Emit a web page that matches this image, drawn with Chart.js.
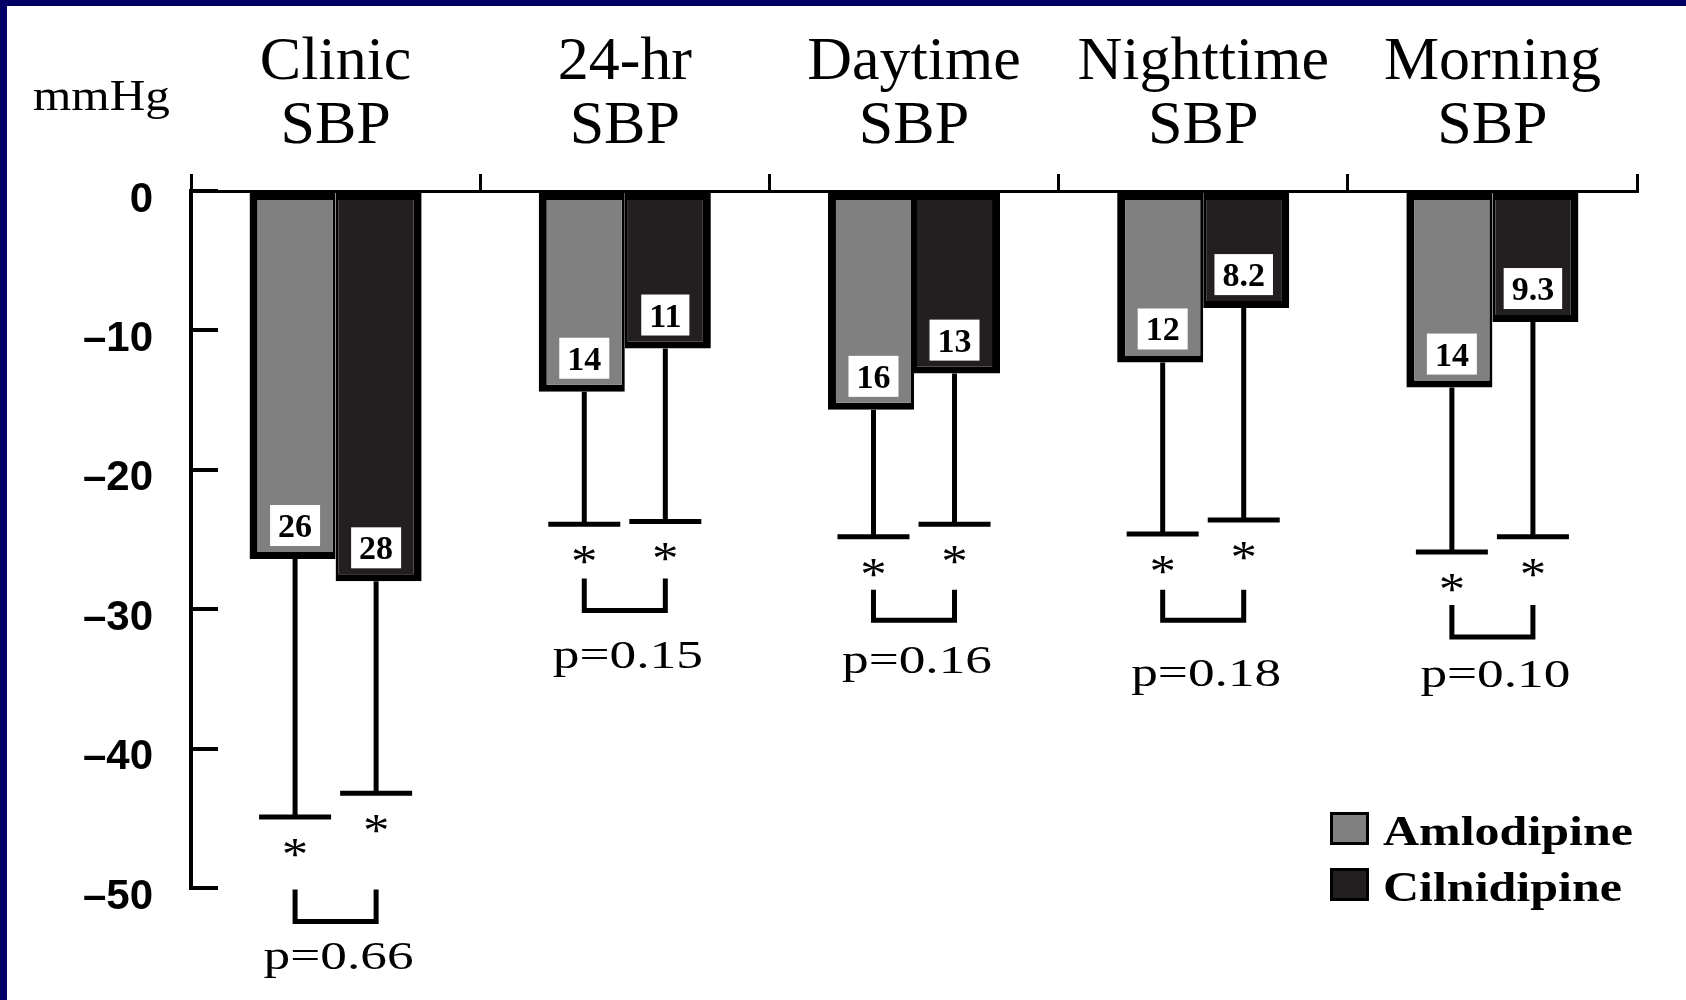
<!DOCTYPE html>
<html><head><meta charset="utf-8">
<script src="https://cdn.jsdelivr.net/npm/chart.js@4/dist/chart.umd.min.js"></script>
<style>
html,body{margin:0;padding:0;background:#fff;}
#wrap{position:relative;width:1686px;height:1000px;overflow:hidden;background:#fff;}
#c{position:absolute;left:0;top:0;}
.bt{position:absolute;left:0;top:0;width:1686px;height:6px;background:#000066;}
.bl{position:absolute;left:0;top:0;width:7px;height:1000px;background:#000066;}
</style></head><body>
<div id="wrap"><canvas id="c" width="1686" height="1000"></canvas><div class="bt"></div><div class="bl"></div></div>
<script>
// ---- data ----
const categories = [["Clinic","SBP"],["24-hr","SBP"],["Daytime","SBP"],["Nighttime","SBP"],["Morning","SBP"]];
const seriesNames = ["Amlodipine","Cilnidipine"];
const amlodipine = [-26.4,-14.4,-15.7,-12.3,-14.1];
const cilnidipine = [-28.0,-11.3,-13.1,-8.4,-9.4];
const amlodipineLabels = ["26","14","16","12","14"];
const cilnidipineLabels = ["28","11","13","8.2","9.3"];
const amlodipineSDEnd = [-44.9,-23.9,-24.8,-24.6,-25.9];
const cilnidipineSDEnd = [-43.2,-23.7,-23.9,-23.6,-24.8];
const bracketTop = [-50.1,-27.8,-28.6,-28.6,-29.7];
const bracketBottom = [-52.4,-30.1,-30.8,-30.8,-32.0];
const pValues = ["p=0.66","p=0.15","p=0.16","p=0.18","p=0.10"];
const pTextY = [-54.8,-33.2,-33.6,-34.5,-34.6];
const yTicks = [0,-10,-20,-30,-40,-50];
const unitLabel = "mmHg";

// ---- helpers ----
function stretchedText(ctx, text, x, y, font, sx, align){
  ctx.save();
  ctx.font = font;
  ctx.fillStyle = '#000';
  ctx.textAlign = align || 'center';
  ctx.textBaseline = 'alphabetic';
  ctx.translate(x, y);
  ctx.scale(sx, 1);
  ctx.fillText(text, 0, 0);
  ctx.restore();
}

const annot = {
  id: 'annot',
  afterDatasetsDraw(chart){
    const ctx = chart.ctx;
    const y = chart.scales.y;
    const ca = chart.chartArea;
    const sdArrs = [amlodipineSDEnd, cilnidipineSDEnd];
    const lblArrs = [amlodipineLabels, cilnidipineLabels];
    const metas = [chart.getDatasetMeta(0), chart.getDatasetMeta(1)];
    const centers = [[],[]];
    ctx.save();
    metas.forEach((meta, d) => {
      meta.data.forEach((bar, i) => {
        const x = bar.x + (d === 0 ? 2.5 : -2.5);
        centers[d][i] = x;
        const yBar = bar.y;
        const yEnd = y.getPixelForValue(sdArrs[d][i]);
        ctx.strokeStyle = '#000';
        ctx.lineWidth = 5;
        ctx.lineCap = 'butt';
        ctx.beginPath(); ctx.moveTo(x, yBar); ctx.lineTo(x, yEnd); ctx.stroke();
        ctx.beginPath(); ctx.moveTo(x - 36, yEnd); ctx.lineTo(x + 36, yEnd); ctx.stroke();
        // asterisk
        stretchedText(ctx, '*', x, yEnd + 53, '46px "Liberation Serif"', 1.15);
        // value label box
        ctx.font = 'bold 34px "Liberation Serif"';
        const t = lblArrs[d][i];
        const w = ctx.measureText(t).width + 16;
        const bBottom = yBar - 13;
        ctx.fillStyle = '#fff';
        ctx.fillRect(x - w / 2, bBottom - 41, w, 41);
        ctx.fillStyle = '#000';
        ctx.textAlign = 'center';
        ctx.textBaseline = 'alphabetic';
        ctx.fillText(t, x, bBottom - 9);
      });
    });
    // brackets and p values
    for (let i = 0; i < categories.length; i++) {
      const x1 = centers[0][i], x2 = centers[1][i];
      const yt = y.getPixelForValue(bracketTop[i]);
      const yb = y.getPixelForValue(bracketBottom[i]);
      ctx.strokeStyle = '#000';
      ctx.lineWidth = 5;
      ctx.lineJoin = 'miter';
      ctx.beginPath();
      ctx.moveTo(x1, yt); ctx.lineTo(x1, yb); ctx.lineTo(x2, yb); ctx.lineTo(x2, yt);
      ctx.stroke();
      const yp = y.getPixelForValue(pTextY[i]);
      stretchedText(ctx, pValues[i], (x1 + x2) / 2 + 3, yp + 14, '41px "Liberation Serif"', 1.3);
    }
    // legend
    const ds = chart.data.datasets;
    const lx = ca.right - 307;
    const rows = [ca.bottom - 76, ca.bottom - 20];
    ds.forEach((dset, d) => {
      const ry = rows[d];
      ctx.fillStyle = '#000';
      ctx.fillRect(lx, ry, 39, 33);
      ctx.fillStyle = dset.backgroundColor;
      ctx.fillRect(lx + 3, ry + 3, 33, 27);
      stretchedText(ctx, dset.label, lx + 53, ry + 33, 'bold 42px "Liberation Serif"', 1.19, 'left');
    });
    // unit label
    stretchedText(ctx, unitLabel, ca.left - 158, ca.top - 81, '44px "Liberation Serif"', 1.12, 'left');
    ctx.restore();
  }
};

Chart.defaults.animation = false;
new Chart(document.getElementById('c'), {
  type: 'bar',
  data: {
    labels: categories,
    datasets: [
      { label: seriesNames[0], data: amlodipine, backgroundColor: '#808080', borderColor: '#000',
        borderWidth: {top: 7, bottom: 7, left: 8, right: 3}, borderSkipped: false,
        categoryPercentage: 0.595, barPercentage: 1.0, clip: false },
      { label: seriesNames[1], data: cilnidipine, backgroundColor: '#231f20', borderColor: '#000',
        borderWidth: {top: 7, bottom: 7, left: 3, right: 8}, borderSkipped: false,
        categoryPercentage: 0.595, barPercentage: 1.0, clip: false }
    ]
  },
  options: {
    responsive: false,
    animation: false,
    devicePixelRatio: 1,
    layout: { padding: { left: 0, right: 49, top: 0, bottom: 112 } },
    plugins: { legend: { display: false }, tooltip: { enabled: false } },
    scales: {
      x: {
        position: 'top',
        grid: { display: true, drawOnChartArea: false, drawTicks: true, tickLength: 17, lineWidth: 3, color: '#000', offset: true },
        border: { display: true, width: 3, color: '#000' },
        ticks: { font: { family: 'Liberation Serif', size: 62, lineHeight: 1.04 }, color: '#000', padding: 15, maxRotation: 0, autoSkip: false },
        afterFit: s => { s.height = 191; }
      },
      y: {
        min: -50, max: 0,
        afterBuildTicks: s => { s.ticks = yTicks.map(v => ({ value: v })); },
        grid: { display: true, drawOnChartArea: false, drawTicks: true, tickLength: -27, lineWidth: 4, color: '#000' },
        border: { display: true, width: 4, color: '#000' },
        ticks: {
          font: { family: 'Liberation Sans', size: 42, weight: 'bold', lineHeight: '18px' }, color: '#000', padding: 65,
          callback: v => v === 0 ? ['', '0'] : ['', '\u2013' + Math.abs(v)]
        },
        afterFit: s => { s.width = 191; }
      }
    }
  },
  plugins: [annot]
});
</script>
</body></html>
